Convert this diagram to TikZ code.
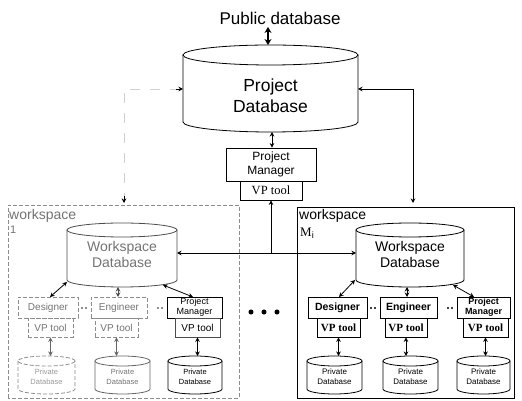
\documentclass[tikz,border=0pt]{standalone}
\usepackage{fontspec}
\setmainfont{Liberation Sans}
\newfontfamily\vpserif{Liberation Serif}
\usetikzlibrary{arrows.meta}
\newcommand{\mycyl}[6][]{%
  \pgfmathsetmacro{\cylcx}{(#2+#3)/2}%
  \pgfmathsetmacro{\cylrx}{(#3-#2)/2}%
  \draw[#1] (\cylcx,#4) ellipse [x radius=\cylrx, y radius=#6];
  \draw[#1] (#2,#4) -- (#2,#5) arc[start angle=180, end angle=360, x radius=\cylrx, y radius=#6] -- (#3,#4);
}
\tikzset{
  ln/.style={line width=0.8pt},
  dbl/.style={ln,{Stealth[length=4.5pt,width=4.5pt]}-{Stealth[length=4.5pt,width=4.5pt]}},
  one/.style={ln,-{Stealth[length=4.5pt,width=4.5pt]}},
  box/.style={draw,ln,inner sep=0pt,align=center},
  faint/.style={draw=black!45,dashed,dash pattern=on 4pt off 2pt},
  fainttext/.style={text=black!55},
}
\begin{document}
\begin{tikzpicture}[x=1pt,y=1pt]
\useasboundingbox (0,0) rectangle (522,401);
% ---------- top ----------
\node (pub) at (280,383) {\fontsize{17}{20}\selectfont Public database};
\mycyl[ln]{183}{358}{346}{279}{10}
\node[align=center,font=\fontsize{17.5}{21}\selectfont] (pd) at (270.5,305.5) {Project\\Database};
\coordinate (pdtop) at (268,356);
\coordinate (pdpub) at (268,374);
\draw[line width=1.6pt,{Stealth[length=6pt,width=7pt]}-{Stealth[length=6pt,width=7pt]}] (pdpub) -- (pdtop);
\coordinate (pdbot) at (272,269);
\coordinate (pdL) at (183,312);
\coordinate (pdR) at (358,312);
\node[box,minimum width=90pt,minimum height=33pt,font=\fontsize{12}{14}\selectfont] (pm) at (271,236.5) {Project\\Manager};
\node[box,minimum width=62pt,minimum height=19pt] (vp) at (271,210.5) {\vpserif\fontsize{12.5}{13}\selectfont VP tool};
\draw[dbl] (pdbot) -- (pdbot|-pm.north);
\coordinate (jn) at (271,148);
\draw[one] (jn) -- (vp.south);
\coordinate (w1R) at (177,148);
\coordinate (wMR) at (356,148);
\draw[dbl] (w1R) -- (wMR);
% left faded connector
\coordinate (w1top) at (124,198);
\draw[ln,black!18,dashed,dash pattern=on 10pt off 10pt] (w1top) |- (pdL);
\draw[one] (176,312) -- (pdL);
\draw[one] (124,205) -- (w1top);
% right connector
\coordinate (wMtop) at (413,198);
\draw[dbl] (pdR) -| (wMtop);
% ---------- workspace frames ----------
\draw[ln,faint] (8,3) rectangle (239,196);
\draw[ln] (297,3) rectangle (514,194);
\node[anchor=west,inner sep=0pt,fainttext] (w1lab) at (9,185) {\fontsize{14}{15}\selectfont workspace};
\node[anchor=west,inner sep=0pt,fainttext] (w1num) at (10,171) {\fontsize{11}{12}\selectfont 1};
\node[anchor=west,inner sep=0pt] (wMlab) at (299,185) {\fontsize{14}{15}\selectfont workspace};
\node[anchor=west,inner sep=0pt] (wMnum) at (300,168) {\vpserif\fontsize{13}{14}\selectfont M$_{\mathrm{i}}$};
% ---------- workspace databases ----------
\mycyl[ln,draw=black!70]{67}{177}{171}{121}{7}
\node[align=center,fainttext,font=\fontsize{14}{16}\selectfont] (wdb1) at (122,146.5) {Workspace\\Database};
\mycyl[ln]{356}{464}{171}{121}{7}
\node[align=center,font=\fontsize{14}{16}\selectfont] (wdbM) at (410,146.5) {Workspace\\Database};
% big dots
\node[circle,fill,inner sep=1.8pt] (d1) at (251,89) {};
\node[circle,fill,inner sep=1.8pt] (d2) at (264,89) {};
\node[circle,fill,inner sep=1.8pt] (d3) at (277,89) {};
% ---------- workspace M roles ----------
\node[box,minimum width=59pt,minimum height=21pt,font=\fontsize{10.5}{12}\selectfont\bfseries] (mdes) at (337.5,93.5) {Designer};
\node[box,minimum width=57pt,minimum height=21pt,font=\fontsize{10.5}{12}\selectfont\bfseries] (meng) at (408.5,93.5) {Engineer};
\node[box,minimum width=53pt,minimum height=21pt,font=\fontsize{9}{10}\selectfont\bfseries] (mpm) at (483.5,93.5) {Project\\Manager};
\node[box,minimum width=43pt,minimum height=19pt,font=\vpserif\fontsize{11}{12}\selectfont\bfseries] (mvp1) at (338.5,73.5) {VP tool};
\node[box,minimum width=42pt,minimum height=19pt,font=\vpserif\fontsize{11}{12}\selectfont\bfseries] (mvp2) at (406,73.5) {VP tool};
\node[box,minimum width=45pt,minimum height=19pt,font=\vpserif\fontsize{11}{12}\selectfont\bfseries] (mvp3) at (485.5,73.5) {VP tool};
\mycyl[ln]{307}{362}{40}{12}{5}
\mycyl[ln]{383}{438}{40}{12}{5}
\mycyl[ln]{457}{510}{40}{12}{5}
\node[align=center,font=\fontsize{8}{10}\selectfont] (mpdb1) at (334.5,24) {Private\\Database};
\node[align=center,font=\fontsize{8}{10}\selectfont] (mpdb2) at (410.5,24) {Private\\Database};
\node[align=center,font=\fontsize{8}{10}\selectfont] (mpdb3) at (483.5,24) {Private\\Database};
\coordinate (mdb1t) at (338.5,45);
\coordinate (mdb2t) at (406,45);
\coordinate (mdb3t) at (485.5,45);
\draw[dbl] (mvp1.south) -- (mdb1t);
\draw[dbl] (mvp2.south) -- (mdb2t);
\draw[dbl] (mvp3.south) -- (mdb3t);
\draw[dbl] (355,121) -- (339,104);
\draw[dbl] (407,114) -- (407,104);
\draw[dbl] (453,116) -- (474,104);
\foreach \xx in {373,450}{\fill (\xx-2,93) circle (1.1pt) (\xx+2,93) circle (1.1pt);}
% ---------- workspace 1 roles ----------
\node[box,faint,minimum width=60pt,minimum height=21pt,fainttext,font=\fontsize{10}{12}\selectfont] (des1) at (48,93.5) {Designer};
\node[box,faint,minimum width=56pt,minimum height=21pt,fainttext,font=\fontsize{10}{12}\selectfont] (eng1) at (119,93.5) {Engineer};
\node[box,minimum width=55pt,minimum height=21pt,font=\fontsize{9}{10}\selectfont] (pm1) at (194.5,93.5) {Project\\Manager};
\node[box,faint,minimum width=45pt,minimum height=19pt,fainttext,font=\fontsize{10}{12}\selectfont] (vp1a) at (50.5,73.5) {VP tool};
\node[box,faint,minimum width=43pt,minimum height=19pt,fainttext,font=\fontsize{10}{12}\selectfont] (vp1b) at (116.5,73.5) {VP tool};
\node[box,draw=black!70,minimum width=45pt,minimum height=19pt,font=\fontsize{10}{12}\selectfont] (vp1c) at (197.5,73.5) {VP tool};
\mycyl[ln,faint]{18}{75}{40}{12}{5}
\mycyl[ln,draw=black!60]{95}{150}{40}{12}{5}
\mycyl[ln]{168}{222}{40}{12}{5}
\node[align=center,text=black!40,font=\fontsize{7.5}{10}\selectfont] (pdb1a) at (46.5,24) {Private\\Database};
\node[align=center,fainttext,font=\fontsize{7.5}{10}\selectfont] (pdb1b) at (122.5,24) {Private\\Database};
\node[align=center,font=\fontsize{7.5}{10}\selectfont] (pdb1c) at (195,24) {Private\\Database};
\coordinate (db1at) at (50.5,45);
\coordinate (db1bt) at (116.5,45);
\coordinate (db1ct) at (197.5,45);
\draw[dbl,black!60] (vp1a.south) -- (db1at);
\draw[dbl,black!60] (vp1b.south) -- (db1bt);
\draw[dbl] (vp1c.south) -- (db1ct);
\draw[dbl] (67,119) -- (50,104);
\draw[dbl,black!70] (118,114) -- (118,104);
\draw[dbl] (163,116) -- (193,104);
\foreach \xx in {84,160}{\fill[black!60] (\xx-2,93) circle (1.1pt) (\xx+2,93) circle (1.1pt);}
\end{tikzpicture}
\end{document}
